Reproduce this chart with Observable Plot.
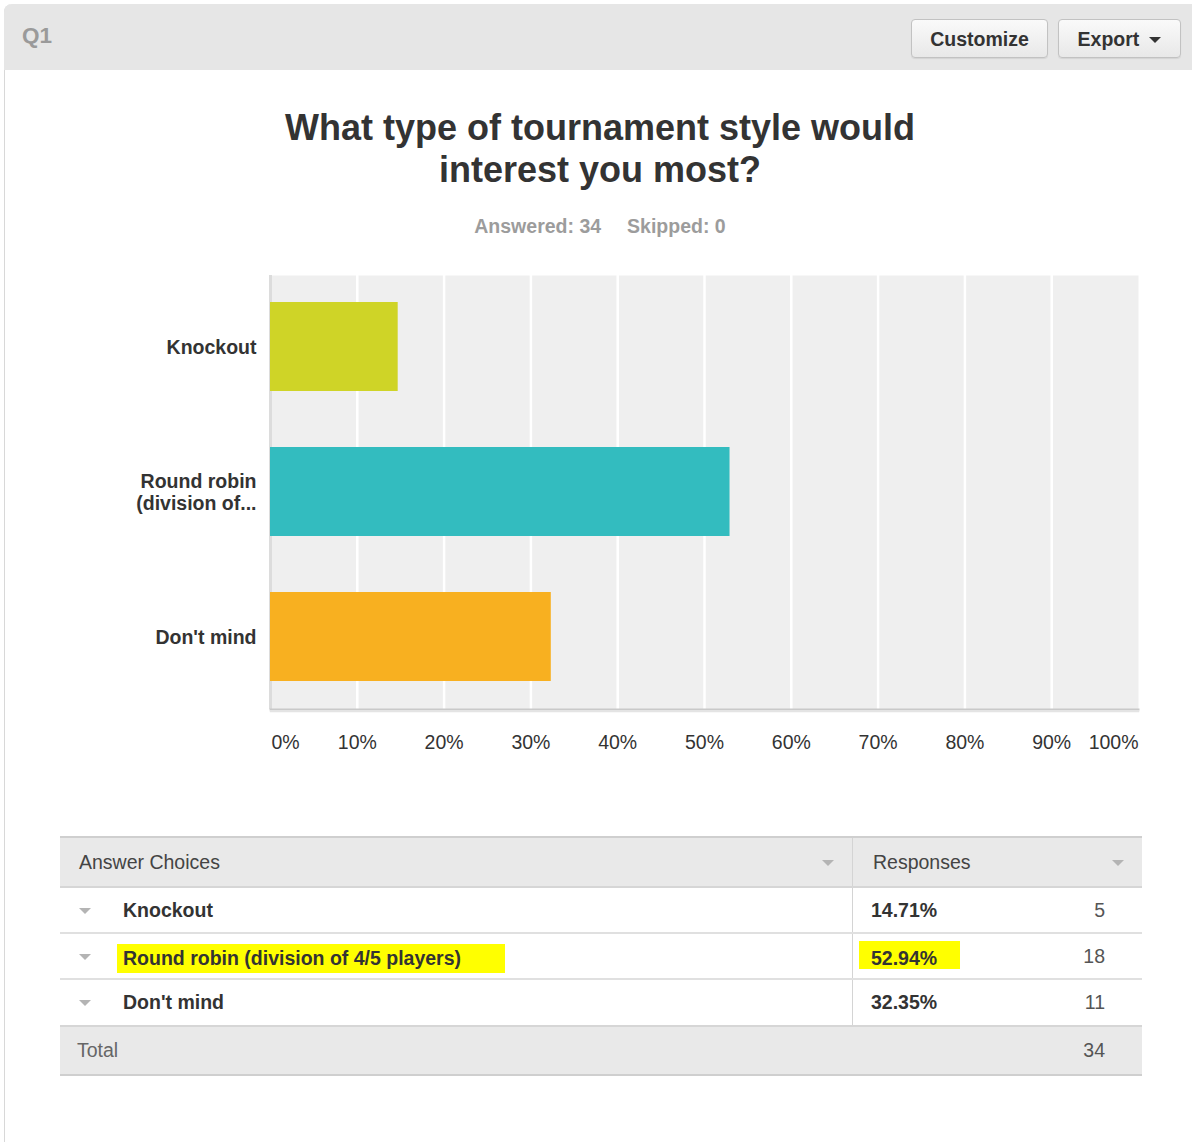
<!DOCTYPE html>
<html>
<head>
<meta charset="utf-8">
<script src="https://cdn.jsdelivr.net/npm/d3@7"></script>
<script src="https://cdn.jsdelivr.net/npm/@observablehq/plot@0.6"></script>
<style>
  html, body { margin: 0; padding: 0; background: #fff; }
  body { width: 1192px; height: 1142px; position: relative; overflow: hidden;
         font-family: "Liberation Sans", Arial, sans-serif; color: #333; }
  .abs { position: absolute; }
  #panel { left: 4px; top: 4px; width: 1200px; height: 1200px; border-left: 1px solid #d8d8d8;
           border-top-left-radius: 8px; }
  #header { left: 4px; top: 4px; width: 1200px; height: 66px; background: #e6e6e6;
            border-top-left-radius: 8px; }
  #q1 { left: 22px; top: 22px; font-size: 22.5px; font-weight: bold; color: #9a9a9a; line-height: 28px; }
  .btn { top: 19px; height: 39px; border: 1px solid #c2c2c2; border-radius: 4px;
         background: linear-gradient(#fafafa, #e8e8e8); box-shadow: 0 1px 1px rgba(0,0,0,0.08);
         font-size: 19.5px; font-weight: bold; color: #333; display: flex; align-items: center;
         justify-content: center; box-sizing: border-box; padding-top: 2px; }
  .caret { display: inline-block; width: 0; height: 0; border-left: 6px solid transparent;
           border-right: 6px solid transparent; border-top: 6px solid #333; margin-left: 10px; }
  #title { left: 0; top: 107px; width: 1200px; text-align: center; font-size: 36px; font-weight: bold;
           line-height: 42px; color: #333; }
  #subtitle { left: 0; top: 214px; width: 1200px; text-align: center; font-size: 19.5px; font-weight: bold;
              color: #9c9c9c; line-height: 24px; word-spacing: 0; }
  #chart { left: 0; top: 260px; }
  .row { position: absolute; left: 60px; width: 1082px; box-sizing: border-box; }
  .cell { position: absolute; top: 0; height: 100%; display: flex; align-items: center; font-size: 19.5px; }
  .tri { position: absolute; width: 0; height: 0; border-left: 6px solid transparent;
         border-right: 6px solid transparent; border-top: 6px solid #b4b4b4; }
  .hl { background: #ffff00; }
</style>
</head>
<body>
<div id="panel" class="abs"></div>
<div id="header" class="abs"></div>
<div id="q1" class="abs"></div>
<div id="btnCustomize" class="abs btn" style="left:911px; width:137px;"></div>
<div id="btnExport" class="abs btn" style="left:1058px; width:123px;"></div>
<div id="title" class="abs"></div>
<div id="subtitle" class="abs"></div>
<div id="chart" class="abs"></div>
<div id="table"></div>
<script>
// ---- data ----
const questionId = "Q1";
const titleLines = ["What type of tournament style would", "interest you most?"];
const answered = 34;
const skipped = 0;
const categories = ["Knockout", "Round robin (division of 4/5 players)", "Don't mind"];
const chartLabels = ["Knockout", "Round robin\n(division of...", "Don't mind"];
const percents = [14.71, 52.94, 32.35];
const counts = [5, 18, 11];
const barColors = ["#cfd427", "#33bcbf", "#f8b020"];
const highlighted = [1];
const xTicks = [0, 10, 20, 30, 40, 50, 60, 70, 80, 90, 100];
const total = 34;
const buttonLabels = ["Customize", "Export"];
const tableHeaders = ["Answer Choices", "Responses"];

// ---- header & titles ----
document.getElementById("q1").textContent = questionId;
document.getElementById("btnCustomize").textContent = buttonLabels[0];
document.getElementById("btnExport").innerHTML = buttonLabels[1] + '<span class="caret"></span>';
document.getElementById("title").innerHTML = titleLines.join("<br>");
document.getElementById("subtitle").innerHTML =
  "Answered: " + answered + '<span style="display:inline-block;width:26px"></span>Skipped: ' + skipped;

// ---- chart ----
const data = categories.map((c, i) => ({cat: c, label: chartLabels[i], pct: percents[i]}));
const font = "Liberation Sans, Arial, sans-serif";
const chart = Plot.plot({
  width: 1192,
  height: 510,
  marginLeft: 270,
  marginRight: 54,
  marginTop: 15,
  marginBottom: 61,
  style: {fontFamily: font, background: "transparent"},
  x: {domain: [0, 100], axis: null},
  y: {domain: categories, axis: null, paddingInner: 0.386, paddingOuter: 0.186},
  color: {domain: categories, range: barColors},
  marks: [
    Plot.frame({fill: "#efefef", stroke: null}),
    Plot.ruleX(xTicks.slice(1, -1), {stroke: "#ffffff", strokeWidth: 2.5}),
    Plot.ruleX([0], {stroke: "#dcdcdc", strokeWidth: 3}),
    Plot.barX(data, {x: "pct", y: "cat", fill: "cat"}),
    Plot.frame({anchor: "bottom", stroke: "#c9c9c9", strokeWidth: 2}),
    Plot.frame({anchor: "bottom", stroke: "#e4e4e4", strokeWidth: 1.5, dy: 2}),
    Plot.text(data, {y: "cat", text: "label", frameAnchor: "left", dx: -14, textAnchor: "end",
      fontSize: 19.5, fontWeight: "bold", fill: "#333", lineHeight: 1.13, fontFamily: font}),
    Plot.text(xTicks.slice(0, 1), {x: d => d, text: d => d + "%", frameAnchor: "bottom", dy: 39,
      textAnchor: "start", dx: 1, fontSize: 19.5, fill: "#333", fontFamily: font}),
    Plot.text(xTicks.slice(1, -1), {x: d => d, text: d => d + "%", frameAnchor: "bottom", dy: 39,
      textAnchor: "middle", fontSize: 19.5, fill: "#333", fontFamily: font}),
    Plot.text(xTicks.slice(-1), {x: d => d, text: d => d + "%", frameAnchor: "bottom", dy: 39,
      textAnchor: "end", fontSize: 19.5, fill: "#333", fontFamily: font})
  ]
});
document.getElementById("chart").appendChild(chart);

// ---- table ----
const table = document.getElementById("table");
const colSplit = 852 - 60;
function addRow(top, height, bg, borderTop, borderBottom) {
  const r = document.createElement("div");
  r.className = "row";
  r.style.top = top + "px";
  r.style.height = height + "px";
  r.style.background = bg;
  if (borderTop) r.style.borderTop = borderTop;
  if (borderBottom) r.style.borderBottom = borderBottom;
  table.appendChild(r);
  return r;
}
function addCell(row, left, html, style) {
  const c = document.createElement("div");
  c.className = "cell";
  c.style.left = left + "px";
  Object.assign(c.style, style || {});
  c.innerHTML = html;
  row.appendChild(c);
  return c;
}
function addTri(row, left, top) {
  const t = document.createElement("div");
  t.className = "tri";
  t.style.left = left + "px";
  t.style.top = top + "px";
  row.appendChild(t);
}
// header row
const hr = addRow(836, 52, "#e9e9e9", "2px solid #cfcfcf", "2px solid #d6d6d6");
addCell(hr, 19, tableHeaders[0], {color: "#444"});
addCell(hr, colSplit + 21, tableHeaders[1], {color: "#444"});
addTri(hr, 762, 22);
addTri(hr, 1052, 22);
const vline = document.createElement("div");
vline.style.cssText = "position:absolute;left:" + colSplit + "px;top:0;width:1px;height:100%;background:#d4d4d4";
hr.appendChild(vline);

const rowTops = [888, 934, 980];
const rowH = [46, 46, 47];
categories.forEach((c, i) => {
  const r = addRow(rowTops[i], rowH[i], "#fff", null, i < categories.length - 1 ? "2px solid #e0e0e0" : "2px solid #d6d6d6");
  const hl = highlighted.includes(i);
  addTri(r, 19, 20);
  addCell(r, hl ? 57 : 63, hl ? '<span class="hl" style="padding:3px 44px 3px 6px">' + c + '</span>' : c,
    {fontWeight: "bold", color: "#333", paddingTop: hl ? "2px" : "0"});
  const pctText = percents[i].toFixed(2) + "%";
  addCell(r, hl ? colSplit + 7 : colSplit + 19,
    hl ? '<span class="hl" style="display:inline-block;line-height:22px;padding:6px 23px 0 12px;margin-top:-6px">' + pctText + '</span>' : pctText,
    {fontWeight: "bold", color: "#333", paddingTop: hl ? "2px" : "0"});
  addCell(r, 0, String(counts[i]), {left: "auto", right: "37px", color: "#555"});
  const v = document.createElement("div");
  v.style.cssText = "position:absolute;left:" + colSplit + "px;top:0;width:1px;height:100%;background:#d4d4d4";
  r.appendChild(v);
});
const tr = addRow(1027, 49, "#e9e9e9", null, "2px solid #cfcfcf");
addCell(tr, 17, "Total", {color: "#666"});
addCell(tr, 0, String(total), {left: "auto", right: "37px", color: "#555"});
</script>
</body>
</html>
